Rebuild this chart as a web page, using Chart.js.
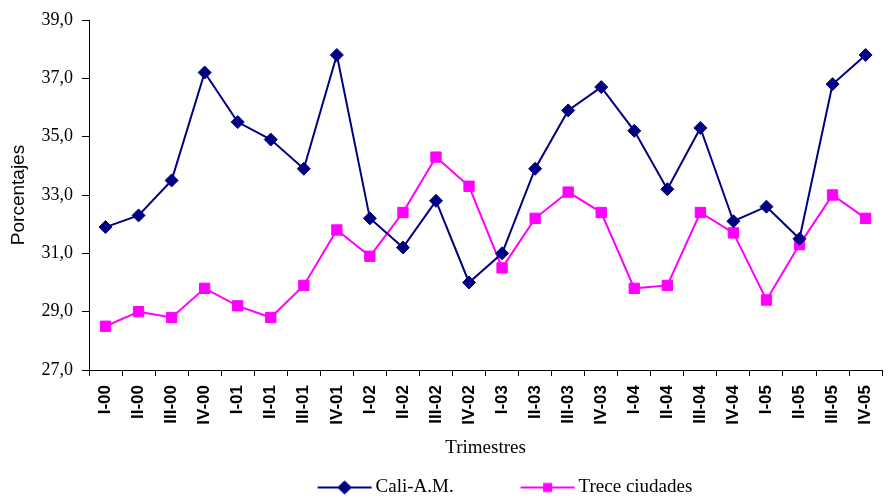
<!DOCTYPE html>
<html><head><meta charset="utf-8">
<style>html,body{margin:0;padding:0;overflow:hidden;background:#fff}canvas{display:block}</style>
<script src="https://cdn.jsdelivr.net/npm/chart.js@4"></script>
</head><body>
<canvas id="c"></canvas>
<script>
const categories = ['I-00','II-00','III-00','IV-00','I-01','II-01','III-01','IV-01','I-02','II-02','III-02','IV-02','I-03','II-03','III-03','IV-03','I-04','II-04','III-04','IV-04','I-05','II-05','III-05','IV-05'];
const caliValues = [31.9,32.3,33.5,37.2,35.5,34.9,33.9,37.8,32.2,31.2,32.8,30.0,31.0,33.9,35.9,36.7,35.2,33.2,35.3,32.1,32.6,31.5,36.8,37.8];
const treceValues = [28.5,29.0,28.8,29.8,29.2,28.8,29.9,31.8,30.9,32.4,34.3,33.3,30.5,32.2,33.1,32.4,29.8,29.9,32.4,31.7,29.4,31.3,33.0,32.2];
const yTicks = [27,29,31,33,35,37,39];
const seriesNames = ['Cali-A.M.','Trece ciudades'];
const xTitle = 'Trimestres';
const yTitle = 'Porcentajes';

const NAVY = '#000080', MAG = '#FF00FF';
const LEG_FONT = 19, HF = LEG_FONT / 2;
const AREA_L = 89, AREA_R = 895, AREA_T = 20, AREA_B = 370;

const mctx = document.createElement('canvas').getContext('2d');
mctx.font = LEG_FONT + 'px "Liberation Serif", serif';
const tc = mctx.measureText(seriesNames[0]).width;
const tt = mctx.measureText(seriesNames[1]).width;
const K = 203 - HF - tc;
const lineW = 2 * (K + HF) + tc + tt;
const P = 2 * ((AREA_L + AREA_R - lineW) / 2 + K + HF - 382);
const W = K - P;
const XH = 108 - P;
const TITLE_PB = AREA_B + XH - 11.4 - 448;
const LEG_H = LEG_FONT + P + 10;
const CANVAS_H = Math.round(AREA_B + XH + LEG_H);

const cv = document.getElementById('c');
cv.width = AREA_R; cv.height = CANVAS_H;
cv.style.width = AREA_R + 'px'; cv.style.height = CANVAS_H + 'px';

function legendImg(kind, color) {
  const IW = Math.ceil(Math.max(W + 2 * HF, 60)) + 2, IH = 18;
  const c = document.createElement('canvas'); c.width = IW; c.height = IH;
  const g = c.getContext('2d');
  const base = W / 2 + IW / 2 + HF;
  const x1 = base - 58, x2 = base - 4, cy = IH / 2;
  g.strokeStyle = color; g.lineWidth = 2;
  g.beginPath(); g.moveTo(x1, cy); g.lineTo(x2, cy); g.stroke();
  const mx = (x1 + x2) / 2; g.fillStyle = color;
  if (kind === 'diamond') {
    g.beginPath(); g.moveTo(mx - 7.5, cy); g.lineTo(mx, cy - 7); g.lineTo(mx + 7.5, cy); g.lineTo(mx, cy + 7); g.closePath(); g.fill();
  } else {
    g.fillRect(mx - 4.5, cy - 4.5, 9, 9);
  }
  return c;
}
const imgs = [legendImg('diamond', NAVY), legendImg('square', MAG)];

new Chart(cv, {
  type: 'line',
  data: {
    labels: categories,
    datasets: [
      {label: seriesNames[0], data: caliValues, borderColor: NAVY, backgroundColor: NAVY, borderWidth: 2, tension: 0,
       pointStyle: 'rectRot', pointRadius: 6.5, pointBackgroundColor: NAVY, pointBorderColor: NAVY, pointBorderWidth: 1, fill: false},
      {label: seriesNames[1], data: treceValues, borderColor: MAG, backgroundColor: MAG, borderWidth: 2, tension: 0,
       pointStyle: 'rect', pointRadius: 7.3, pointBackgroundColor: MAG, pointBorderColor: MAG, pointBorderWidth: 1, fill: false}
    ]
  },
  options: {
    responsive: false, animation: false, devicePixelRatio: 1,
    layout: {padding: {top: AREA_T, left: 0, right: 0, bottom: 0}, autoPadding: false},
    plugins: {
      tooltip: {enabled: false},
      legend: {
        position: 'bottom', align: 'center', fullSize: false,
        labels: {
          usePointStyle: true, pointStyleWidth: W, padding: P, color: '#000',
          font: {family: '"Liberation Serif", serif', size: LEG_FONT},
          generateLabels: () => seriesNames.map((n, i) => ({
            text: n, pointStyle: imgs[i], fillStyle: i ? MAG : NAVY, strokeStyle: i ? MAG : NAVY,
            lineWidth: 0, hidden: false, datasetIndex: i, fontColor: '#000'
          }))
        }
      }
    },
    scales: {
      x: {
        type: 'category', offset: true,
        grid: {offset: true, drawOnChartArea: false, drawTicks: true, tickLength: 6, color: '#000'},
        border: {display: true, color: '#000', width: 1},
        ticks: {autoSkip: false, minRotation: 90, maxRotation: 90, padding: 9, color: '#000',
                font: {family: '"Liberation Sans", Arial, sans-serif', size: 17, weight: 'bold'}},
        title: {display: true, text: xTitle, color: '#000', padding: {top: 0, bottom: TITLE_PB},
                font: {family: '"Liberation Serif", serif', size: 19}},
        afterFit: (s) => { s.height = XH; }
      },
      y: {
        min: 27, max: 39,
        afterBuildTicks: (s) => { s.ticks = yTicks.map(v => ({value: v})); },
        grid: {drawOnChartArea: false, drawTicks: true, tickLength: 7, color: '#000'},
        border: {display: true, color: '#000', width: 1},
        ticks: {padding: 9, color: '#000', callback: (v) => Number(v).toFixed(1).replace('.', ','),
                font: {family: '"Liberation Serif", serif', size: 18}},
        title: {display: true, text: yTitle, color: '#000', padding: {top: 7, bottom: 0},
                font: {family: '"Liberation Sans", Arial, sans-serif', size: 19}},
        afterFit: (s) => { s.width = AREA_L; }
      }
    }
  }
});
</script>
</body></html>
